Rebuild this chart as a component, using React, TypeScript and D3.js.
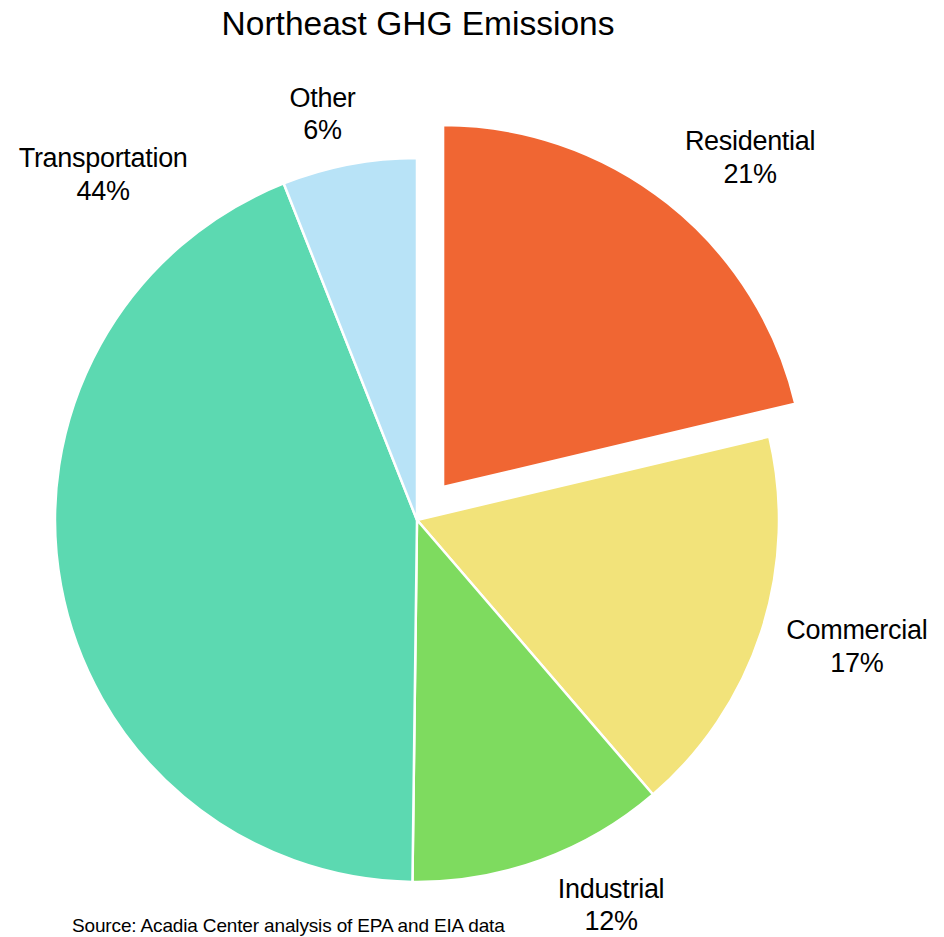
import React from "react";
import * as d3 from "d3";

const categories = ["Residential", "Commercial", "Industrial", "Transportation", "Other"];
const shares = [21.3, 17.4, 11.5, 43.8, 6.0];
const colors = ["#F06633", "#F2E37A", "#7EDB5F", "#5CD9B1", "#B8E3F7"];
const exploded = [true, false, false, false, false];
// label anchor points, in units of pie radius relative to pie centre
const labelDx = [0.92, 1.215, 0.536, -0.867, -0.261];
const labelDy = [-1.022, 0.329, 1.044, -0.975, -1.141];

const W = 944;
const H = 937;
const cx = 417;
const cy = 520;
const R = 362;
const EXPLODE = 42;
const FONT = "'Liberation Sans', Arial, Helvetica, sans-serif";

export default function App() {
  const data = categories.map((c, i) => ({ name: c, value: shares[i], i }));
  const pie = d3.pie<any>().value((d) => d.value).sort(null);
  const arcs = pie(data);
  const arc = d3.arc<any>().innerRadius(0).outerRadius(R);

  return (
    <svg
      width={W}
      height={H}
      style={{ position: "absolute", left: 0, top: 0, background: "#fff" }}
      fontFamily={FONT}
    >
      <rect x={0} y={0} width={W} height={H} fill="#fff" />
      <text x={418} y={35} textAnchor="middle" fontSize={33.5} fill="#000">
        Northeast GHG Emissions
      </text>
      <g transform={`translate(${cx},${cy})`}>
        {arcs.map((a, i) => {
          const mid = (a.startAngle + a.endAngle) / 2;
          const off = exploded[i] ? EXPLODE : 0;
          const tx = Math.sin(mid) * off;
          const ty = -Math.cos(mid) * off;
          return (
            <path
              key={i}
              d={arc(a) as string}
              transform={`translate(${tx},${ty})`}
              fill={colors[i]}
              stroke="#fff"
              strokeWidth={2.5}
              strokeLinejoin="round"
            />
          );
        })}
        {arcs.map((a, i) => {
          const x = labelDx[i] * R;
          const y = labelDy[i] * R;
          return (
            <text key={"l" + i} x={x} y={y} textAnchor="middle" fontSize={27} letterSpacing={-0.3} fill="#000">
              <tspan x={x} dy={0}>{categories[i]}</tspan>
              <tspan x={x} dy={32.5}>{Math.round(shares[i]) + "%"}</tspan>
            </text>
          );
        })}
      </g>
      <text x={72} y={932} fontSize={19} fill="#000" letterSpacing={-0.15}>
        Source: Acadia Center analysis of EPA and EIA data
      </text>
    </svg>
  );
}
